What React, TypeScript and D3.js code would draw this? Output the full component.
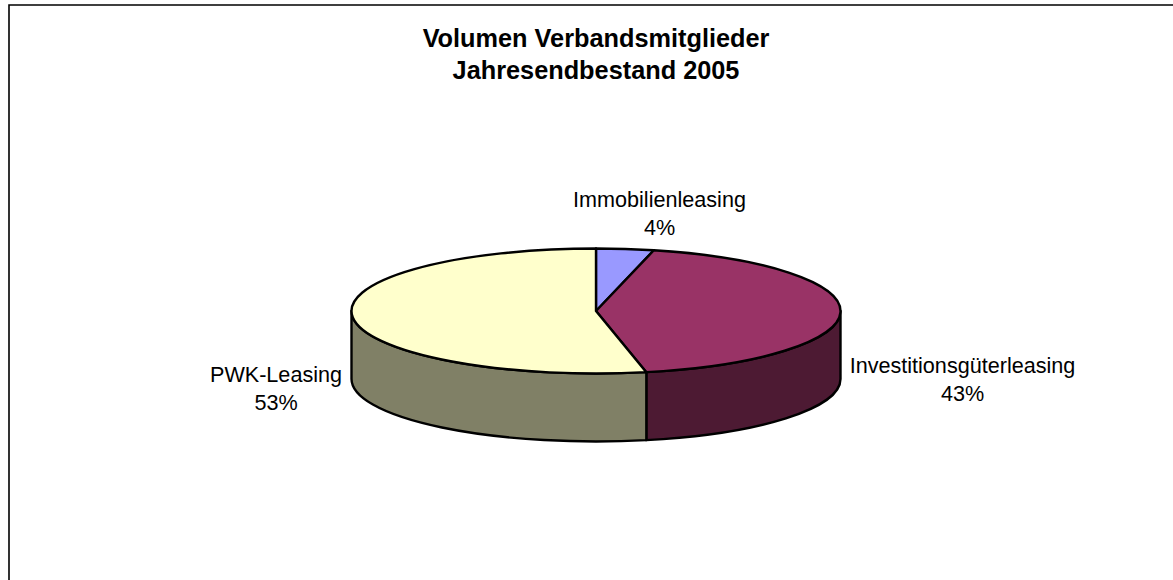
import React from "react";
import * as d3 from "d3";

const categories = ["Immobilienleasing", "Investitionsgüterleasing", "PWK-Leasing"];
const values = [3.8, 42.9, 53.3];
const percentLabels = ["4%", "43%", "53%"];
const topColors = ["#9999FF", "#993366", "#FFFFCC"];
const sideColors = ["#5C5C99", "#4D1A33", "#808066"];
const titleLines = ["Volumen Verbandsmitglieder", "Jahresendbestand 2005"];

const W = 1173, H = 580;
const cx = 596, cy = 311, rx = 244.5, ry = 62.5, depth = 68;
const font = "Arial, 'Liberation Sans', sans-serif";

const labelPos = [
  { x: 659.5, y: 207 },
  { x: 962.5, y: 372.5 },
  { x: 276, y: 382 },
];

const px = (a: number) => cx + rx * Math.sin(a);
const py = (a: number) => cy - ry * Math.cos(a);

function wall(a0: number, a1: number) {
  const s = Math.max(a0, Math.PI / 2), e = Math.min(a1, (3 * Math.PI) / 2);
  if (e <= s) return null;
  return `M${px(s)},${py(s)}A${rx},${ry} 0 0 1 ${px(e)},${py(e)}L${px(e)},${py(e) + depth}A${rx},${ry} 0 0 0 ${px(s)},${py(s) + depth}Z`;
}

function top(a0: number, a1: number) {
  const large = a1 - a0 > Math.PI ? 1 : 0;
  return `M${cx},${cy}L${px(a0)},${py(a0)}A${rx},${ry} 0 ${large} 1 ${px(a1)},${py(a1)}Z`;
}

export default function App() {
  const arcs = d3.pie<number>().sort(null)(values);
  return (
    <svg width={W} height={H} style={{ position: "absolute", left: 0, top: 0, background: "#fff" }}>
      <path d={`M9,${H}V5H${W}`} fill="none" stroke="#000" strokeWidth={1.6} />
      <g fontFamily={font} fontWeight="bold" fontSize={25.3} textAnchor="middle" fill="#000">
        {titleLines.map((t, i) => (
          <text key={t} x={596} y={47 + i * 32.3}>{t}</text>
        ))}
      </g>
      <g stroke="#000" strokeWidth={2.4} strokeLinejoin="round">
        {arcs.map((d, i) => {
          const w = wall(d.startAngle, d.endAngle);
          return w ? <path key={i} d={w} fill={sideColors[i]} /> : null;
        })}
        {arcs.map((d, i) => (
          <path key={i} d={top(d.startAngle, d.endAngle)} fill={topColors[i]} />
        ))}
      </g>
      <g fontFamily={font} fontSize={21.6} textAnchor="middle" fill="#000">
        {categories.map((c, i) => (
          <text key={c}>
            <tspan x={labelPos[i].x} y={labelPos[i].y}>{c}</tspan>
            <tspan x={labelPos[i].x} y={labelPos[i].y + 28}>{percentLabels[i]}</tspan>
          </text>
        ))}
      </g>
    </svg>
  );
}
